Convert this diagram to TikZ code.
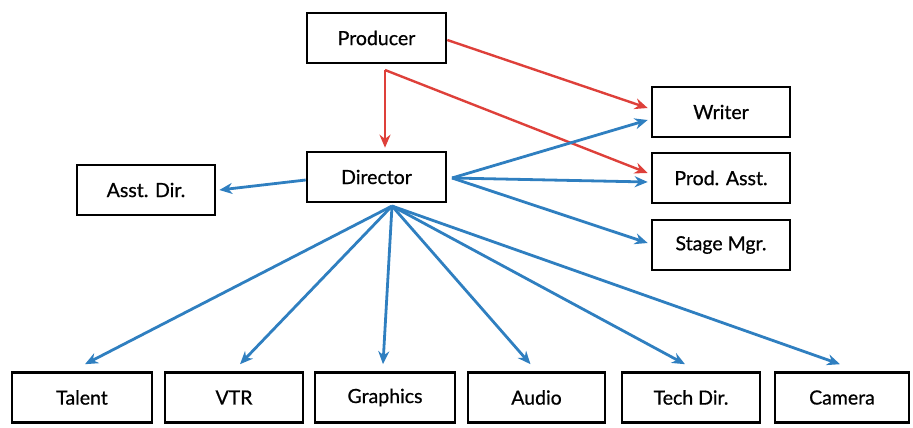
\documentclass[tikz,border=0pt]{standalone}
\usepackage{fontspec}
\newfontfamily\boxfont[FakeBold=0.7]{Lato}
\usetikzlibrary{arrows.meta}
\definecolor{redc}{RGB}{222,64,58}
\definecolor{bluec}{RGB}{47,127,192}
\begin{document}
\begin{tikzpicture}[x=1pt,y=-1pt,
  box/.style={draw=black,line width=2.6pt,minimum height=50pt,inner sep=0pt,font=\boxfont\fontsize{19.5}{22}\selectfont},
  redarr/.style={draw=redc,line width=2.4pt,-{Stealth[length=13pt,width=11pt]}},
  bluearr/.style={draw=bluec,line width=2.8pt,-{Stealth[length=13pt,width=11pt]}}]
\useasboundingbox (0,0) rectangle (913,428);
\node[box,minimum width=139pt] (prod) at (376.5,38) {Producer};
\node[box,minimum width=139pt] (dir) at (376.5,177) {Director};
\node[box,minimum width=138pt] (asst) at (146,190) {Asst. Dir.};
\node[box,minimum width=138pt] (writer) at (721,112) {Writer};
\node[box,minimum width=138pt] (pa) at (721,178) {Prod. Asst.};
\node[box,minimum width=138pt] (sm) at (721,245) {Stage Mgr.};
\node[box,minimum width=140pt] (talent) at (82,397.5) {Talent};
\node[box,minimum width=138pt] (vtr) at (234,397.5) {VTR};
\node[box,minimum width=140pt] (gfx) at (385,397.5) {Graphics};
\node[box,minimum width=137pt] (audio) at (536.5,397.5) {Audio};
\node[box,minimum width=138pt] (td) at (691,397.5) {Tech Dir.};
\node[box,minimum width=134pt] (cam) at (842,397.5) {Camera};
\coordinate (pj) at (385,70);
\coordinate (dr) at (452,178);
\coordinate (db) at (392,206);
% red
\draw[redarr] ([yshift=-2pt]prod.east) -- ([xshift=-3pt,yshift=4pt]writer.west);
\draw[redarr] (pj) -- ([yshift=3pt]pj |- dir.north);
\draw[redarr] (pj) -- ([xshift=-3pt,yshift=5pt]pa.west);
% blue right
\draw[bluearr] (dr) -- ([xshift=-3pt,yshift=-8pt]writer.west);
\draw[bluearr] (dr) -- ([xshift=-3pt,yshift=-4pt]pa.west);
\draw[bluearr] (dr) -- ([xshift=-3pt,yshift=2pt]sm.west);
\draw[bluearr] ([yshift=-3pt]dir.west) -- ([xshift=3pt]asst.east);
% blue down
\draw[bluearr] (db) -- ([xshift=3pt,yshift=7pt]talent.north);
\draw[bluearr] (db) -- ([xshift=6pt,yshift=7pt]vtr.north);
\draw[bluearr] (db) -- ([xshift=-2pt,yshift=7pt]gfx.north);
\draw[bluearr] (db) -- ([xshift=-6pt,yshift=7pt]audio.north);
\draw[bluearr] (db) -- ([xshift=-6pt,yshift=7pt]td.north);
\draw[bluearr] (db) -- ([xshift=-2pt,yshift=7pt]cam.north);
\end{tikzpicture}
\end{document}
